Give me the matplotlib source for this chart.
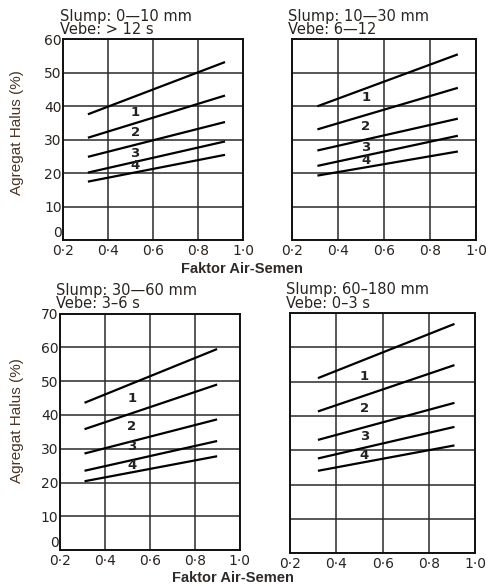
import numpy as np
from matplotlib import pyplot as plt

# ----------------------------------------------------------------------------------------------------------------------
#   Proporsi agregat halus vs faktor air-semen (4 kelas slump)
# ----------------------------------------------------------------------------------------------------------------------

TITLES = ["Slump: 0\u201410 mm\nVebe: > 12 s",
          "Slump: 10\u201430 mm\nVebe: 6\u201412",
          "Slump: 30\u201460 mm\nVebe: 3\u20136 s",
          "Slump: 60\u2013180 mm\nVebe: 0\u20133 s"]

X_TICKS = [0.2, 0.4, 0.6, 0.8, 1.0]
X_TICK_LABELS = ["0\u00b72", "0\u00b74", "0\u00b76", "0\u00b78", "1\u00b70"]

# ujung kiri / kanan garis (faktor air-semen)
X_START = [0.31, 0.31, 0.31, 0.32]
X_END = [0.92, 0.92, 0.90, 0.91]

# agregat halus (%) di ujung kiri tiap garis, dari atas ke bawah
Y_START = [
    [37.6, 30.6, 24.9, 20.2, 17.5],
    [40.0, 33.1, 26.8, 22.2, 19.3],
    [43.6, 35.8, 28.6, 23.5, 20.4],
    [51.0, 41.3, 33.0, 27.6, 24.0],
]
# agregat halus (%) di ujung kanan tiap garis
Y_END = [
    [53.2, 43.2, 35.3, 29.5, 25.5],
    [55.5, 45.5, 36.3, 31.2, 26.5],
    [59.5, 49.0, 38.7, 32.3, 27.8],
    [66.8, 54.8, 43.8, 36.8, 31.4],
]

# nomor zona gradasi pasir
ZONE_LABELS = ["1", "2", "3", "4"]
ZONE_X = [0.52, 0.52, 0.52, 0.52]
ZONE_Y = [
    [38.0, 32.3, 26.0, 22.2],
    [42.7, 34.0, 27.6, 23.8],
    [44.9, 36.5, 30.6, 25.1],
    [51.6, 42.2, 33.9, 28.5],
]

Y_MAX = [60, 60, 70, 70]

# ======================================================================================================================

AXES_POS = [
    [0.130, 0.590, 0.370, 0.343],
    [0.601, 0.590, 0.379, 0.343],
    [0.123, 0.061, 0.370, 0.404],
    [0.597, 0.056, 0.381, 0.410],
]

TEXT_COLOR = "#2a2420"
YLABEL_COLOR = "#4a3526"
XLABEL_COLOR = "#2e2a27"


def draw_panel(fig, i):
    ax = fig.add_axes(AXES_POS[i])
    ax.set_xlim(0.2, 1.0)
    ax.set_ylim(0, Y_MAX[i])

    for y0, y1 in zip(Y_START[i], Y_END[i]):
        ax.plot([X_START[i], X_END[i]], [y0, y1], color="black", lw=1.6, solid_capstyle="butt")

    for lab, ly in zip(ZONE_LABELS, ZONE_Y[i]):
        ax.text(ZONE_X[i], ly, lab, ha="center", va="center", fontsize=9.5, color="#222222",
                fontweight="bold")

    ax.set_xticks(X_TICKS)
    ax.set_xticklabels(X_TICK_LABELS)
    ax.set_yticks(np.arange(0, Y_MAX[i] + 1, 10))
    if i % 2 == 1:
        ax.set_yticklabels([])
    ax.tick_params(length=0, labelsize=10, colors=TEXT_COLOR)
    ax.tick_params(axis="x", pad=3)
    ax.tick_params(axis="y", pad=1)
    # angka nol sumbu-y sedikit dinaikkan supaya tidak menimpa 0·2
    ax.get_yticklabels()[0].set_va("bottom")

    ax.grid(True, color="#2a2a2a", lw=1.1)
    ax.set_axisbelow(True)
    for s in ax.spines.values():
        s.set_linewidth(1.4)
        s.set_color("#111111")

    ax.text(-0.02, 1.01, TITLES[i], transform=ax.transAxes, ha="left", va="bottom",
            fontsize=10.5, color=TEXT_COLOR, linespacing=0.85)
    return ax


def main():
    fig = plt.figure(figsize=(4.86, 5.86), dpi=100)
    fig.patch.set_facecolor("white")

    for i in range(4):
        draw_panel(fig, i)

    # label sumbu bersama
    fig.text(0.035, 0.773, "Agregat Halus (%)", rotation=90, ha="center", va="center",
             fontsize=11, color=YLABEL_COLOR, family="Liberation Sans")
    fig.text(0.035, 0.283, "Agregat Halus (%)", rotation=90, ha="center", va="center",
             fontsize=11, color=YLABEL_COLOR, family="Liberation Sans")
    fig.text(0.497, 0.541, "Faktor Air-Semen", ha="center", va="center",
             fontsize=10.5, fontweight="bold", color=XLABEL_COLOR, family="Liberation Sans")
    fig.text(0.480, 0.014, "Faktor Air-Semen", ha="center", va="center",
             fontsize=10.5, fontweight="bold", color=XLABEL_COLOR, family="Liberation Sans")

    fig.savefig("out.png", dpi=100)


if __name__ == "__main__":
    main()
